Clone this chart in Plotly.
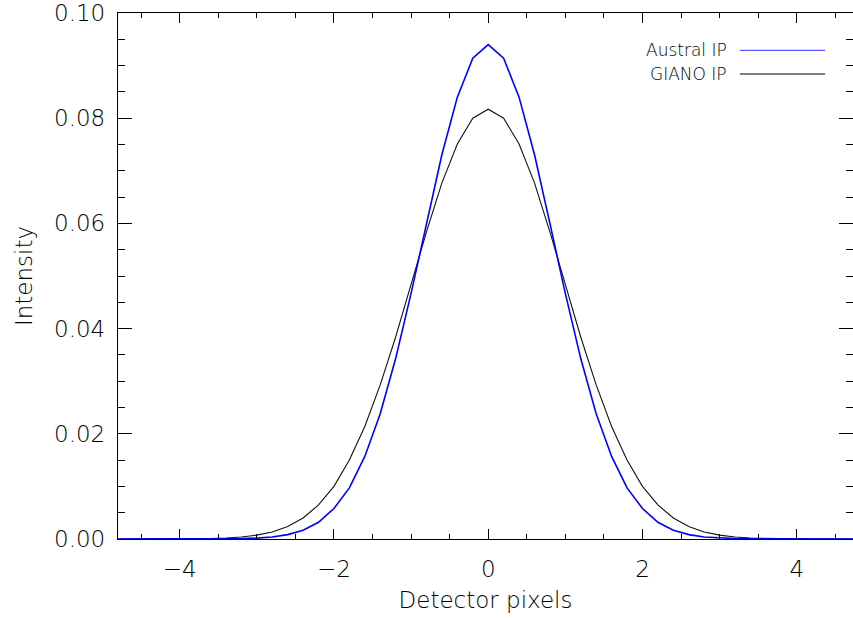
import plotly.graph_objects as go

# Detector pixel positions (step 0.2)
pixels = [-4.8, -4.6, -4.4, -4.2, -4.0, -3.8, -3.6, -3.4, -3.2, -3.0,
          -2.8, -2.6, -2.4, -2.2, -2.0, -1.8, -1.6, -1.4, -1.2, -1.0,
          -0.8, -0.6, -0.4, -0.2, 0.0, 0.2, 0.4, 0.6, 0.8, 1.0,
          1.2, 1.4, 1.6, 1.8, 2.0, 2.2, 2.4, 2.6, 2.8, 3.0,
          3.2, 3.4, 3.6, 3.8, 4.0, 4.2, 4.4, 4.6, 4.8]

austral_ip = [0.0, 0.0, 0.0, 0.0, 0.0, 0.0, 0.00001, 0.00003, 0.00007, 0.00017,
              0.00039, 0.00083, 0.00166, 0.00317, 0.0058, 0.00972, 0.0157, 0.0238, 0.0343, 0.0467,
              0.0600, 0.0731, 0.0840, 0.0914, 0.0940, 0.0914, 0.0840, 0.0731, 0.0600, 0.0467,
              0.0343, 0.0238, 0.0157, 0.00972, 0.0058, 0.00317, 0.00166, 0.00083, 0.00039, 0.00017,
              0.00007, 0.00003, 0.00001, 0.0, 0.0, 0.0, 0.0, 0.0, 0.0]

giano_ip = [0.0, 0.0, 0.0, 0.00001, 0.00002, 0.00004, 0.00009, 0.00019, 0.00038, 0.00073,
            0.00134, 0.00237, 0.00400, 0.00648, 0.0100, 0.0150, 0.0214, 0.0293, 0.0384, 0.0484,
            0.0584, 0.0677, 0.0751, 0.0800, 0.0817, 0.0800, 0.0751, 0.0677, 0.0584, 0.0484,
            0.0384, 0.0293, 0.0214, 0.0150, 0.0100, 0.00648, 0.00400, 0.00237, 0.00134, 0.00073,
            0.00038, 0.00019, 0.00009, 0.00004, 0.00002, 0.00001, 0.0, 0.0, 0.0]

series_names = ["Austral IP", "GIANO IP"]
x_title = "Detector pixels"
y_title = "Intensity"

FONT = "DejaVu Sans"
TXT = "#000000"
W = 200

fig = go.Figure()
fig.add_trace(go.Scatter(x=pixels, y=giano_ip, mode="lines", name=series_names[1],
                         line=dict(color="#111111", width=1.1), showlegend=False))
fig.add_trace(go.Scatter(x=pixels, y=austral_ip, mode="lines", name=series_names[0],
                         line=dict(color="#0000ff", width=1.6), showlegend=False))

# legend (text left of sample line, IDL style)
leg_rows = [(series_names[0], "#5a5aff", 0.929), (series_names[1], "#000000", 0.884)]
for name, col, yy in leg_rows:
    fig.add_annotation(x=0.830, y=yy, xref="paper", yref="paper", text=name,
                       showarrow=False, xanchor="right", yanchor="middle", borderpad=0,
                       font=dict(family=FONT, size=17, color=TXT, weight=W))
    fig.add_shape(type="line", xref="paper", yref="paper", x0=0.846, x1=0.962,
                  y0=yy, y1=yy, line=dict(color=col, width=1.2))

fig.update_layout(
    width=853, height=618,
    margin=dict(l=118, r=0, t=13, b=79),
    paper_bgcolor="white", plot_bgcolor="white",
    font=dict(family=FONT, size=23, color=TXT, weight=W),
    showlegend=False,
    xaxis=dict(range=[-4.8, 4.73], dtick=2, tick0=0, ticks="inside", ticklen=10,
               tickwidth=1, tickcolor="#000", showline=True, linecolor="#000", linewidth=1,
               mirror="ticks", showgrid=False, zeroline=False,
               minor=dict(dtick=0.5, ticks="inside", ticklen=5, tickcolor="#000", showgrid=False),
               tickfont=dict(family=FONT, size=23, color=TXT, weight=W),
               ticklabelstandoff=9,
               title=dict(text=x_title, standoff=11,
                          font=dict(family=FONT, size=23, color=TXT, weight=W))),
    yaxis=dict(range=[0, 0.1], dtick=0.02, tick0=0, tickformat=".2f", ticks="inside",
               ticklen=14, tickwidth=1, tickcolor="#000", showline=True, linecolor="#000",
               linewidth=1.3, mirror="ticks", showgrid=False, zeroline=False,
               minor=dict(dtick=0.005, ticks="inside", ticklen=7, tickcolor="#000", showgrid=False),
               tickfont=dict(family=FONT, size=23, color=TXT, weight=W),
               ticklabelstandoff=7,
               title=dict(text=y_title, standoff=14,
                          font=dict(family=FONT, size=23, color=TXT, weight=W))),
)

fig.write_html("out.html")
